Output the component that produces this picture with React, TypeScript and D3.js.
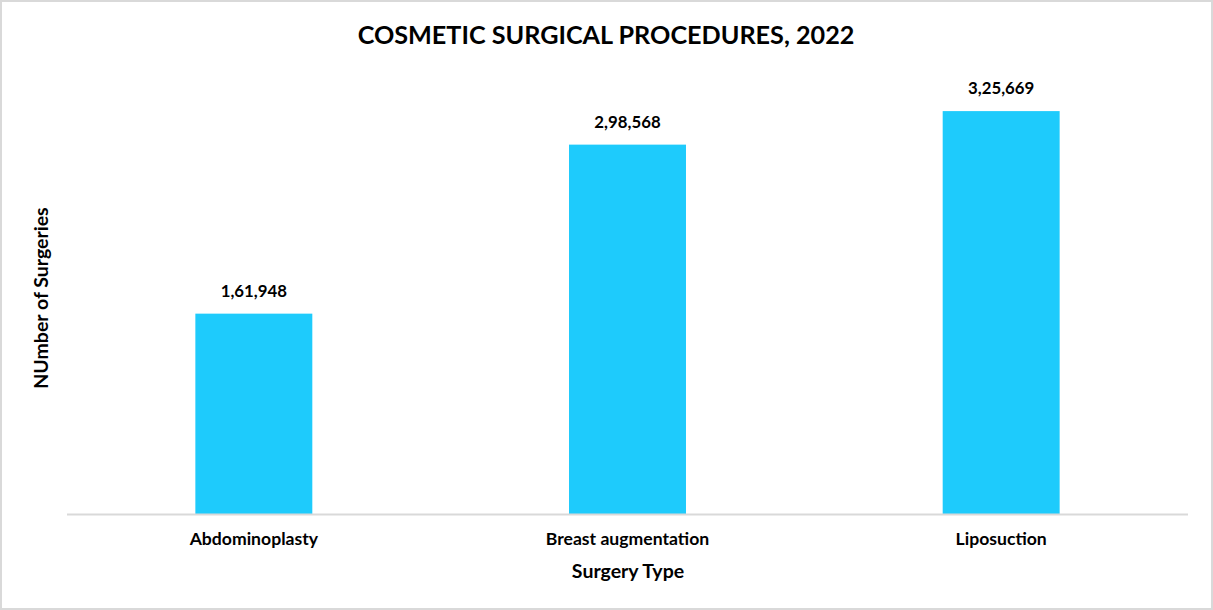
import React from "react";
import * as d3 from "d3";

const categories = ["Abdominoplasty", "Breast augmentation", "Liposuction"];
const values = [161948, 298568, 325669];
const title = "COSMETIC SURGICAL PROCEDURES, 2022";
const xTitle = "Surgery Type";
const yTitle = "NUmber of Surgeries";

const W = 1213;
const H = 610;
const FONT = "Lato, 'Open Sans', 'Liberation Sans', sans-serif";

export default function App() {
  const x = d3
    .scaleBand<string>()
    .domain(categories)
    .range([67, 1188])
    .paddingInner(0.687)
    .paddingOuter(0.3435);
  const y = d3.scaleLinear().domain([0, 350000]).range([514, 81]);
  const fmt = d3.formatLocale({
    decimal: ".",
    thousands: ",",
    grouping: [3, 2],
    currency: ["", ""],
  }).format(",d");

  return (
    <svg
      width={W}
      height={H}
      style={{ position: "absolute", left: 0, top: 0, background: "#fff" }}
      fontFamily={FONT}
    >
      <rect x={1} y={1} width={W - 2} height={H - 2} fill="#fff" stroke="#D9D9D9" strokeWidth={2} />
      <text x={606} y={44} textAnchor="middle" fontSize={25.2} fontWeight="bold" fill="#000">
        {title}
      </text>
      {categories.map((c, i) => (
        <g key={c}>
          <rect
            x={x(c)!}
            y={y(values[i])}
            width={x.bandwidth()}
            height={y(0) - y(values[i])}
            fill="#1ECBFC"
          />
          <text
            x={x(c)! + x.bandwidth() / 2}
            y={y(values[i]) - 17}
            textAnchor="middle"
            fontSize={16.8}
            fontWeight="bold"
            fill="#000"
          >
            {fmt(values[i])}
          </text>
          <text
            x={x(c)! + x.bandwidth() / 2}
            y={545}
            textAnchor="middle"
            fontSize={17.6}
            fontWeight="bold"
            fill="#000"
          >
            {c}
          </text>
        </g>
      ))}
      <line x1={67} x2={1188} y1={514.5} y2={514.5} stroke="#D9D9D9" strokeWidth={2} />
      <text x={628} y={578} textAnchor="middle" fontSize={19.5} fontWeight="bold" fill="#000">
        {xTitle}
      </text>
      <text
        transform={`translate(48,298) rotate(-90)`}
        textAnchor="middle"
        fontSize={19.5}
        fontWeight="bold"
        fill="#000"
      >
        {yTitle}
      </text>
    </svg>
  );
}
